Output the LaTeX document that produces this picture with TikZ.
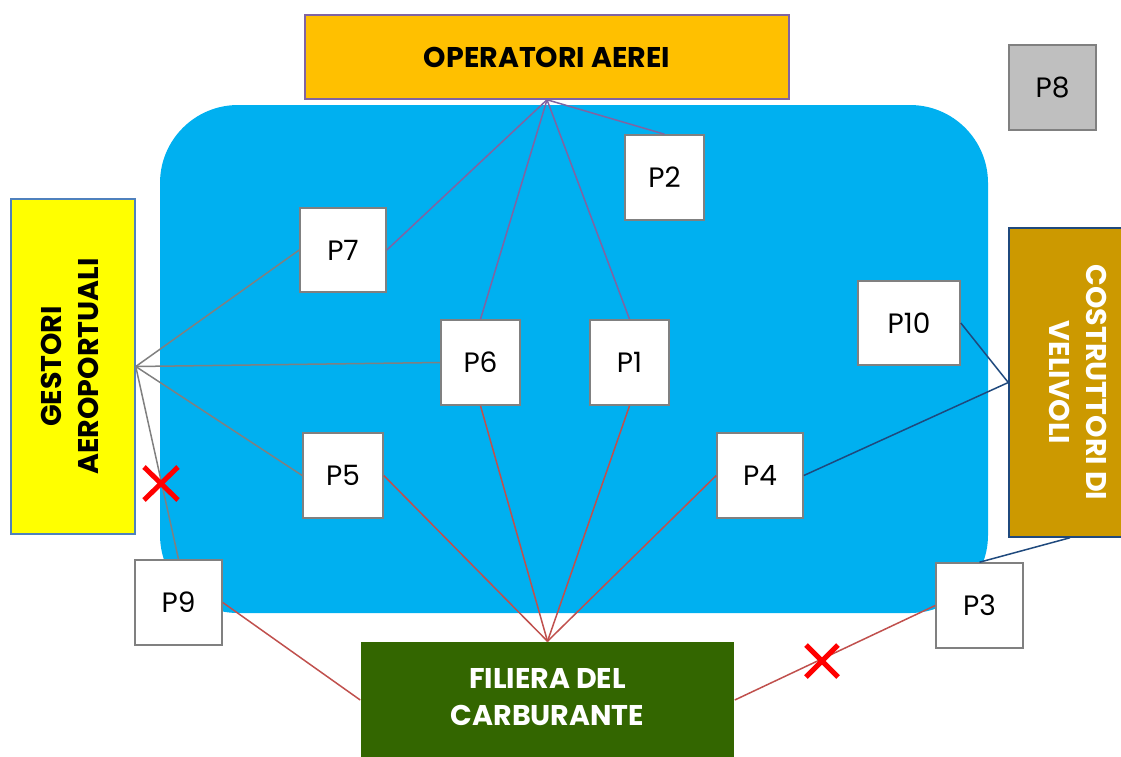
\documentclass[tikz,border=0pt]{standalone}
\usepackage{fontspec}
\setmainfont{Poppins}
\usepackage{graphicx}
\definecolor{bluebg}{HTML}{00B0F0}
\definecolor{opfill}{HTML}{FFC000}
\definecolor{oppurple}{HTML}{8064A2}
\definecolor{gestfill}{HTML}{FFFF00}
\definecolor{gestdraw}{HTML}{4F81BD}
\definecolor{costfill}{HTML}{CC9900}
\definecolor{costdraw}{HTML}{1F497D}
\definecolor{filfill}{HTML}{336600}
\definecolor{redline}{HTML}{C0504D}
\definecolor{grayline}{HTML}{808080}
\definecolor{p8fill}{HTML}{BFBFBF}
\definecolor{crossred}{HTML}{FF0000}
\newcommand{\plabel}[1]{\raisebox{-3pt}{#1}}
\begin{document}
\begin{tikzpicture}[x=1pt,y=-1pt,
  pbox/.style={draw=grayline, line width=1.6pt, fill=white, inner sep=0pt, minimum height=85pt, font=\fontsize{28}{32}\selectfont},
  bigbox/.style={inner sep=0pt, line width=1.5pt, font=\fontsize{28.5}{37}\selectfont\bfseries},
  oplink/.style={draw=oppurple, line width=1.5pt},
  gestlink/.style={draw=grayline, line width=1.5pt},
  fillink/.style={draw=redline, line width=1.5pt},
  costlink/.style={draw=costdraw, line width=1.5pt},
  cross/.style={draw=crossred, line width=5pt}]
\useasboundingbox (0,0) rectangle (1121,756);
\clip (0,0) rectangle (1121,756);
% background
\fill[bluebg, rounded corners=78pt] (160,105) rectangle (988,613);
% big boxes
\node[bigbox, draw=oppurple, fill=opfill, minimum width=484pt, minimum height=84pt] (op) at (547,57) {OPERATORI AEREI};
\node[bigbox, draw=gestdraw, fill=gestfill, minimum width=124pt, minimum height=335pt] (gest) at (73,366.5)
  {\rotatebox{90}{\begin{tabular}{@{}c@{}}GESTORI\\AEROPORTUALI\end{tabular}}};
\node[bigbox, draw=costdraw, fill=costfill, text=white, minimum width=132pt, minimum height=309pt] (cost) at (1075,382.5)
  {\rotatebox{-90}{\begin{tabular}{@{}c@{}}COSTRUTTORI DI\\VELIVOLI\end{tabular}}};
\node[bigbox, fill=filfill, text=white, minimum width=373pt, minimum height=116pt] (fil) at (547.5,700)
  {\raisebox{-3pt}{\begin{tabular}{@{}c@{}}FILIERA DEL\\CARBURANTE\end{tabular}}};
% P boxes
\node[pbox, minimum width=79pt] (p2) at (664.5,177.5) {\plabel{P2}};
\node[pbox, minimum width=86pt, minimum height=84pt] (p7) at (343,250) {\plabel{P7}};
\node[pbox, minimum width=79pt] (p6) at (480.5,362.5) {\plabel{P6}};
\node[pbox, minimum width=79pt] (p1) at (629.5,362.5) {\plabel{P1}};
\node[pbox, minimum width=102pt, minimum height=84pt] (p10) at (909,323) {\plabel{P10}};
\node[pbox, minimum width=80pt] (p5) at (343,475.5) {\plabel{P5}};
\node[pbox, minimum width=86pt] (p4) at (760,475.5) {\plabel{P4}};
\node[pbox, minimum width=87pt] (p9) at (178.5,602.5) {\plabel{P9}};
\node[pbox, minimum width=87pt] (p3) at (979.5,605.5) {\plabel{P3}};
\node[pbox, fill=p8fill, minimum width=87pt] (p8) at (1052.5,87.5) {\plabel{P8}};
% connectors
\draw[oplink] (op.south) -- (p7.east);
\draw[oplink] (op.south) -- (p6.north);
\draw[oplink] (op.south) -- (p1.north);
\draw[oplink] (op.south) -- (p2.north);
\draw[gestlink] (gest.east) -- (p7.west);
\draw[gestlink] (gest.east) -- (p6.west);
\draw[gestlink] (gest.east) -- (p5.west);
\draw[gestlink] (gest.east) -- (p9.north);
\draw[fillink] (fil.north) -- (p5.east);
\draw[fillink] (fil.north) -- (p6.south);
\draw[fillink] (fil.north) -- (p1.south);
\draw[fillink] (fil.north) -- (p4.west);
\draw[fillink] (fil.west) -- (p9.east);
\draw[fillink] (fil.east) -- (p3.west);
\draw[costlink] (cost.west) -- (p10.east);
\draw[costlink] (cost.west) -- (p4.east);
\draw[costlink] ([xshift=-5pt]cost.south) -- (p3.north);
% red crosses
\draw[cross] (144,467) -- (178,500);
\draw[cross] (144,500) -- (178,467);
\draw[cross] (806,645) -- (838,677);
\draw[cross] (806,677) -- (838,645);
\end{tikzpicture}
\end{document}
